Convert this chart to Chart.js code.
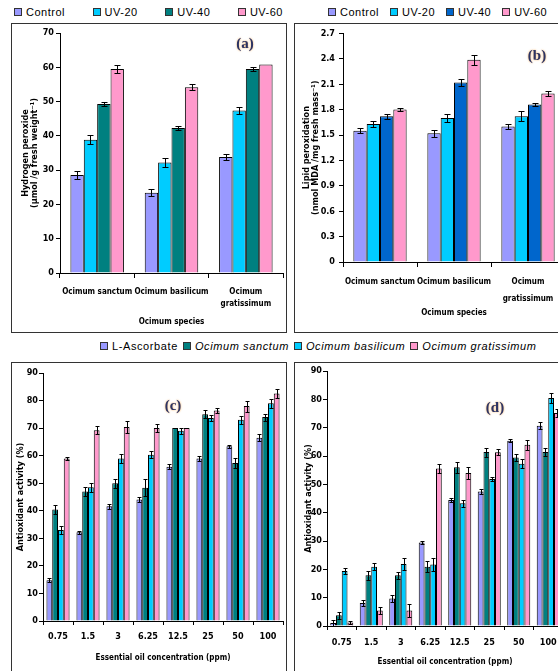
<!DOCTYPE html>
<html>
<head>
<meta charset="utf-8">
<script src="https://cdn.jsdelivr.net/npm/chart.js@4.4.1/dist/chart.umd.min.js"></script>
<style>
  html, body { margin: 0; padding: 0; background: #fff; }
  body { width: 558px; height: 671px; overflow: hidden; position: relative; font-family: "Liberation Sans", Arial, sans-serif; }
  .box { position: absolute; border: 1px solid #333; background: #fff; }
  .box canvas { display: block; }
  .legend { position: absolute; display: flex; align-items: center; font-size: 11px; letter-spacing: 0.5px; color: #000; white-space: nowrap; }
  .legend .item { display: flex; align-items: center; }
  .legend .sw { width: 6px; height: 6px; border: 1px solid #333; margin-right: 4px; }
  .tag { position: absolute; transform: translate(-50%, -50%); font: bold 15px "Liberation Serif", "DejaVu Serif", serif; color: #2b3466; text-shadow: 0 0 2px #f3a64a; }
</style>
</head>
<body>
<div class="legend" id="legA" style="left:14px; top:6px; width:269px; justify-content:space-between;"></div>
<div class="legend" id="legB" style="left:328px; top:6px; gap:11px;"></div>
<div class="box" style="left:11px; top:23px;"><canvas id="chartA" width="274" height="308"></canvas></div>
<div class="box" style="left:294px; top:23px;"><canvas id="chartB" width="274" height="308"></canvas></div>
<div class="legend" id="legCD" style="left:100px; top:340px; gap:5px; font-size:11px; letter-spacing:0.6px;"></div>
<div class="box" style="left:11px; top:362px;"><canvas id="chartC" width="274" height="315"></canvas></div>
<div class="box" style="left:294px; top:362px;"><canvas id="chartD" width="274" height="315"></canvas></div>
<div class="tag" style="left:245px; top:43px;">(a)</div>
<div class="tag" style="left:537px; top:55px;">(b)</div>
<div class="tag" style="left:173px; top:405px;">(c)</div>
<div class="tag" style="left:495px; top:407px;">(d)</div>
<script>
// categories and series names
const treatments = ["Control", "UV-20", "UV-40", "UV-60"];
const speciesLabels = ["Ocimum sanctum", "Ocimum basilicum", ["Ocimum", "gratissimum"]];
const extracts = ["L-Ascorbate", "Ocimum sanctum", "Ocimum basilicum", "Ocimum gratissimum"];
const concLabels = ["0.75", "1.5", "3", "6.25", "12.5", "25", "50", "100"];

// (a) hydrogen peroxide
const h2o2Control = [28.6, 23.4, 33.8];
const h2o2UV20 = [38.9, 32.2, 47.4];
const h2o2UV40 = [49.3, 42.3, 59.5];
const h2o2UV60 = [59.5, 54.2, 60.8];
const h2o2Err = [[1.2, 1.0, 0.8], [1.3, 1.3, 0.9], [0.6, 0.7, 0.6], [1.2, 0.9, 0]];

// (b) lipid peroxidation
const lpoControl = [1.55, 1.52, 1.60];
const lpoUV20 = [1.63, 1.70, 1.72];
const lpoUV40 = [1.72, 2.12, 1.86];
const lpoUV60 = [1.80, 2.39, 1.99];
const lpoErr = [[0.03, 0.04, 0.03], [0.03, 0.05, 0.06], [0.03, 0.04, 0.02], [0.02, 0.06, 0.03]];

// (c) antioxidant activity
const cAscorbate = [14.8, 32.2, 41.6, 44.1, 56.0, 59.0, 63.4, 66.5];
const cSanctum = [40.5, 47.0, 50.0, 48.4, 70.0, 75.0, 57.3, 74.0];
const cBasilicum = [33.0, 48.5, 59.0, 60.3, 69.0, 73.7, 73.0, 79.0];
const cGratissimum = [59.0, 69.2, 70.4, 70.0, 70.0, 76.4, 78.0, 82.6];
const cErr = [
  [0.8, 0.6, 1.0, 1.0, 1.0, 1.0, 0.5, 1.2],
  [1.5, 1.5, 1.7, 3.2, 0, 1.5, 1.7, 1.3],
  [1.3, 1.7, 1.5, 1.3, 1.2, 1.2, 1.5, 1.7],
  [0.5, 1.5, 2.0, 1.5, 0, 1.0, 2.0, 1.6]
];

// (d) antioxidant activity
const dAscorbate = [1.1, 8.1, 9.7, 29.5, 44.5, 47.5, 65.4, 70.7];
const dSanctum = [3.8, 17.9, 17.9, 20.9, 56.0, 61.4, 59.5, 61.4];
const dBasilicum = [19.4, 20.9, 21.9, 21.7, 43.3, 51.9, 57.3, 80.5];
const dGratissimum = [1.2, 5.5, 5.5, 55.6, 54.0, 61.3, 64.0, 75.2];
const dErr = [
  [1.0, 1.0, 1.2, 0.6, 0.8, 1.0, 0.5, 1.3],
  [1.2, 1.5, 1.2, 2.0, 2.0, 1.6, 1.2, 1.5],
  [1.0, 1.3, 2.0, 2.2, 1.2, 0.8, 1.5, 1.8],
  [0.5, 1.2, 2.2, 1.5, 2.0, 1.0, 1.8, 1.5]
];

const colorsA = ["#9999FF", "#00CCFF", "#008080", "#FF99CC"];
const colorsB = ["#9999FF", "#00CCFF", "#0066CC", "#FF99CC"];
const colorsCD = ["#9999FF", "#008080", "#00CCFF", "#FF99CC"];
const NARROW = "'Liberation Sans Narrow', 'DejaVu Sans Condensed', 'Arial Narrow', sans-serif";

// draws the +/- error whiskers on every bar
const errorBars = {
  id: "errorBars",
  afterDatasetsDraw(chart, args, opts) {
    const ctx = chart.ctx;
    const yScale = chart.scales.y;
    ctx.save();
    ctx.strokeStyle = "#000";
    ctx.lineWidth = 1;
    chart.data.datasets.forEach((ds, i) => {
      chart.getDatasetMeta(i).data.forEach((bar, j) => {
        const e = ds.errors[j];
        if (!e) return;
        const v = ds.data[j];
        const top = Math.round(yScale.getPixelForValue(v + e)) + 0.5;
        const bot = Math.round(yScale.getPixelForValue(v - e)) + 0.5;
        const x = Math.round(bar.x) + 0.5;
        const w = opts.cap;
        ctx.beginPath();
        ctx.moveTo(x, top); ctx.lineTo(x, bot);
        ctx.moveTo(x - w, top); ctx.lineTo(x + w, top);
        ctx.moveTo(x - w, bot); ctx.lineTo(x + w, bot);
        ctx.stroke();
      });
    });
    ctx.restore();
  }
};

function buildLegend(id, names, colors, italicFrom) {
  const el = document.getElementById(id);
  names.forEach((name, i) => {
    const item = document.createElement("div");
    item.className = "item";
    const sw = document.createElement("span");
    sw.className = "sw";
    sw.style.background = colors[i];
    const txt = document.createElement("span");
    txt.textContent = name;
    if (italicFrom !== undefined && i >= italicFrom) txt.style.fontStyle = "italic";
    item.appendChild(sw);
    item.appendChild(txt);
    el.appendChild(item);
  });
}

function drawPanel(id, cfg) {
  const datasets = cfg.series.map((s, i) => ({
    label: cfg.names[i],
    data: s,
    errors: cfg.errors[i],
    backgroundColor: cfg.colors[i],
    borderColor: "#000",
    borderWidth: 1,
    categoryPercentage: cfg.catPct,
    barPercentage: 1.0,
  }));
  return new Chart(document.getElementById(id), {
    type: "bar",
    data: { labels: cfg.labels, datasets: datasets },
    plugins: [errorBars],
    options: {
      responsive: false,
      animation: false,
      layout: { padding: { top: cfg.padTop, right: cfg.padRight, left: 0, bottom: 0 } },
      plugins: {
        legend: { display: false },
        tooltip: { enabled: false },
        errorBars: { cap: cfg.cap },
      },
      scales: {
        x: {
          grid: { drawOnChartArea: false, tickLength: cfg.xTickLen, color: "#000", offset: true },
          border: { color: "#000", width: 1 },
          ticks: {
            color: "#000",
            font: { family: NARROW, size: cfg.xFont, weight: "bold", lineHeight: cfg.xLineHeight },
            padding: cfg.xPad,
            autoSkip: false,
            maxRotation: 0,
            minRotation: 0,
          },
          title: {
            display: true,
            text: cfg.xTitle,
            color: "#000",
            font: { family: NARROW, size: 8, weight: "bold", lineHeight: 1 },
            padding: { top: 0, bottom: cfg.xTitlePad },
          },
          afterFit: (s) => { s.height = cfg.xh; },
        },
        y: {
          min: 0,
          max: cfg.yMax,
          grid: { drawOnChartArea: false, tickLength: 4, color: "#000" },
          border: { color: "#000", width: 1 },
          ticks: {
            stepSize: cfg.yStep,
            color: "#000",
            font: { family: NARROW, size: 9, weight: "bold" },
            padding: cfg.yPad,
            callback: cfg.yFormat,
          },
          title: {
            display: true,
            text: cfg.yTitle,
            color: "#000",
            font: { family: NARROW, size: 9, weight: "bold", lineHeight: 1 },
            padding: { top: cfg.yTitlePad, bottom: 0 },
          },
          afterFit: (s) => { s.width = cfg.yw; },
        },
      },
    },
  });
}

buildLegend("legA", treatments, colorsA);
buildLegend("legB", treatments, colorsB);
buildLegend("legCD", extracts, colorsCD, 1);

drawPanel("chartA", {
  labels: speciesLabels,
  names: treatments,
  series: [h2o2Control, h2o2UV20, h2o2UV40, h2o2UV60],
  errors: h2o2Err,
  colors: colorsA,
  catPct: 0.72, cap: 3,
  yMax: 70, yStep: 10, yFormat: (v) => v,
  yTitle: ["Hydrogen peroxide", "(\u00b5mol /g fresh weight\u207b\u00b9)"],
  xTitle: "Ocimum species",
  padTop: 9, padRight: 3, yw: 48, xh: 59,
  xFont: 8, xTickLen: 5, xPad: 8, xLineHeight: 1.5, xTitlePad: 6, yPad: 2, yTitlePad: 9,
});

drawPanel("chartB", {
  labels: speciesLabels,
  names: treatments,
  series: [lpoControl, lpoUV20, lpoUV40, lpoUV60],
  errors: lpoErr,
  colors: colorsB,
  catPct: 0.72, cap: 3,
  yMax: 2.7, yStep: 0.3, yFormat: (v) => (v === 0 ? "0" : v.toFixed(1)),
  yTitle: ["Lipid peroxidation", "(nmol MDA /mg fresh mass\u207b\u00b9)"],
  xTitle: "Ocimum species",
  padTop: 9, padRight: 4, yw: 48, xh: 70,
  xFont: 8, xTickLen: 5, xPad: 6, xLineHeight: 2.2, xTitlePad: 15, yPad: 4, yTitlePad: 7,
});

drawPanel("chartC", {
  labels: concLabels,
  names: extracts,
  series: [cAscorbate, cSanctum, cBasilicum, cGratissimum],
  errors: cErr,
  colors: colorsCD,
  catPct: 0.77, cap: 2,
  yMax: 90, yStep: 10, yFormat: (v) => v,
  yTitle: "Antioxidant activity (%)",
  xTitle: "Essential oil concentration (ppm)",
  padTop: 10, padRight: 3, yw: 31, xh: 57,
  xFont: 9, xTickLen: 4, xPad: 6, xLineHeight: 1.2, xTitlePad: 16, yPad: 1, yTitlePad: 4,
});

drawPanel("chartD", {
  labels: concLabels,
  names: extracts,
  series: [dAscorbate, dSanctum, dBasilicum, dGratissimum],
  errors: dErr,
  colors: colorsCD,
  catPct: 0.78, cap: 2,
  yMax: 90, yStep: 10, yFormat: (v) => v,
  yTitle: "Antioxidant activity (%)",
  xTitle: "Essential oil concentration (ppm)",
  padTop: 8, padRight: 6, yw: 32, xh: 52,
  xFont: 9, xTickLen: 4, xPad: 7, xLineHeight: 1.2, xTitlePad: 12, yPad: 1, yTitlePad: 9,
});
</script>
</body>
</html>
